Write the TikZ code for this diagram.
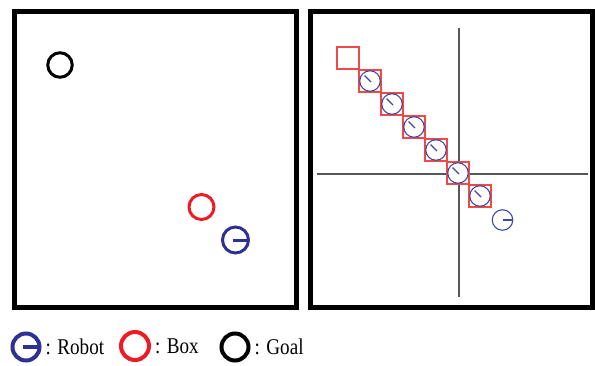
\documentclass[tikz,border=0pt]{standalone}
\usepackage{fontspec}
\setmainfont{Liberation Serif}
\newfontfamily\keyfont[FakeStretch=0.85]{Liberation Serif}
\usetikzlibrary{positioning}

\definecolor{robotblue}{RGB}{46,49,146}
\definecolor{boxred}{RGB}{237,28,36}
\definecolor{trailblue}{RGB}{62,72,168}
\definecolor{trailred}{RGB}{242,72,72}
\definecolor{axisgray}{RGB}{88,88,88}

\tikzset{
  robot/.style={circle, draw=robotblue, line width=#1, minimum size=26pt, inner sep=0pt,
    path picture={\draw[robotblue, line width=#1] ([xshift=-3pt]path picture bounding box.center) -- (path picture bounding box.east);}},
  robot/.default=3pt,
  boxmark/.style={circle, draw=boxred, line width=#1, minimum size=25pt, inner sep=0pt},
  boxmark/.default=3pt,
  goal/.style={circle, draw=black, line width=#1, minimum size=24.5pt, inner sep=0pt},
  goal/.default=3pt,
  cell/.style={draw=trailred, fill=white, line width=1.4pt, minimum size=22pt, inner sep=0pt},
  ghost/.style={circle, draw=trailblue, fill=white, line width=1.1pt, minimum size=20.5pt, inner sep=0pt,
    path picture={\draw[trailblue, line width=1.2pt] ([shift={(1pt,-1pt)}]path picture bounding box.center) -- ++(-6.5pt,6.5pt);}},
  ghostend/.style={circle, draw=trailblue, fill=white, line width=1.1pt, minimum size=20.5pt, inner sep=0pt,
    path picture={\draw[trailblue, line width=1.2pt] (path picture bounding box.center) -- (path picture bounding box.east);}},
  frame/.style={draw=black, line width=5pt},
  key/.style={font=\keyfont\fontsize{22.5}{26}\selectfont, inner sep=0pt},
}

\begin{document}
\begin{tikzpicture}[x=1pt, y=-1pt]
  \useasboundingbox (0,0) rectangle (595,365);

  % the two panels
  \draw[frame] (14.5,11.5) rectangle (296.5,307.5);
  \draw[frame] (310.5,11.5) rectangle (592.5,307.5);

  % left panel: start state
  \node[goal] (goal) at (60,65) {};
  \node[boxmark] (box) at (201.5,207) {};
  \node[robot] (bot) at (235.5,240) {};

  % right panel: axes
  \coordinate (ytop) at (459,28);
  \coordinate (ybot) at (459,297);
  \coordinate (xleft) at (317,174);
  \coordinate (xright) at (588,174);
  \draw[axisgray, line width=1.5pt] (ytop) -- (ybot);
  \draw[axisgray, line width=1.5pt] (xleft) -- (xright);

  % right panel: box trail and robot trail
  \node[cell] (cstart) at (348,58) {};
  \foreach \i in {0,...,5}
    \node[cell] (c\i) at ({370+22*\i},{81+23*\i}) {};
  \foreach \i in {0,...,5}
    \node[ghost] (g\i) at (c\i) {};
  \node[ghostend] (gend) at (502.5,220) {};

  % legend
  \node[robot=4pt, minimum size=27pt] (krobot) at (26,347) {};
  \node[key, right=4pt of krobot] (lrobot) {: Robot};
  \node[boxmark=4pt, minimum size=28pt] (kbox) at (135,346) {};
  \node[key, right=4pt of kbox] (lbox) {: Box};
  \node[goal=4pt, minimum size=27pt] (kgoal) at (235,347) {};
  \node[key, right=4pt of kgoal] (lgoal) {: Goal};
\end{tikzpicture}
\end{document}
